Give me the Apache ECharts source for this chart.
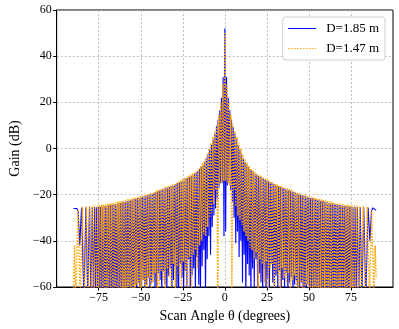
<!DOCTYPE html>
<html>
<head>
<meta charset="utf-8">
<script src="https://cdn.jsdelivr.net/npm/echarts@6/dist/echarts.min.js"></script>
<style>
  html, body { margin: 0; padding: 0; background: #fff; }
  #main { width: 399px; height: 329px; }
</style>
</head>
<body>
<div id="main"></div>
<script>
// scan angle (deg) and gain (dB), D=1.85 m
var blueAngle = [
  -90,-89,-88,-87.2,-86.3,-85.2,-83.8,-82.6,-81.5,-80.5,
  -79.6,-78.8,-78.1,-77.4,-76.8,-76.2,
  -75.5,-75,-74.5,-74,-73.5,-73,-72.5,-72,-71.5,-71,
  -70.5,-70,-69.5,-69,-68.5,-68,-67.5,-67,-66.5,-66,
  -65.5,-65,-64.5,-64,-63.5,-63,-62.5,-62,-61.5,-61,
  -60.5,-60,-59.5,-59,-58.5,-58,-57.5,-57,-56.5,-56,
  -55.5,-55,-54.5,-54,-53.5,-53,-52.5,-52,-51.5,-51,
  -50.5,-50,-49.5,-49,-48.5,-48,-47.5,-47,-46.5,-46,
  -45.5,-45,-44.5,-44,-43.5,-43,-42.5,-42,-41.5,-41,
  -40.5,-40,-39.5,-39,-38.5,-38,-37.5,-37,-36.5,-36,
  -35.5,-35,-34.5,-34,-33.5,-33,-32.5,-32,-31.5,-31,
  -30.5,-30,-29.5,-29,-28.5,-28,-27.5,-27,-26.5,-26,
  -25.5,-25,-24.5,-24,-23.5,-23,-22.5,-22,-21.5,-21,
  -20.5,-20,-19.5,-19,-18.5,-18,-17.5,-17,-16.5,-16,
  -15.5,-15,-14.5,-14,-13.5,-13,-12.5,-12,-11.5,-11,
  -10.5,-10,-9.5,-9,-8.5,-8,-7.5,-7,-6.5,-6,
  -5.5,-5,-4.5,-4,-3.5,-3,-2.5,-2,-1.5,-1,
  -0.5,0,
  0.5,1,1.5,2,2.5,3,3.5,4,4.5,5,
  5.5,6,6.5,7,7.5,8,8.5,9,9.5,10,
  10.5,11,11.5,12,12.5,13,13.5,14,14.5,15,
  15.5,16,16.5,17,17.5,18,18.5,19,19.5,20,
  20.5,21,21.5,22,22.5,23,23.5,24,24.5,25,
  25.5,26,26.5,27,27.5,28,28.5,29,29.5,30,
  30.5,31,31.5,32,32.5,33,33.5,34,34.5,35,
  35.5,36,36.5,37,37.5,38,38.5,39,39.5,40,
  40.5,41,41.5,42,42.5,43,43.5,44,44.5,45,
  45.5,46,46.5,47,47.5,48,48.5,49,49.5,50,
  50.5,51,51.5,52,52.5,53,53.5,54,54.5,55,
  55.5,56,56.5,57,57.5,58,58.5,59,59.5,60,
  60.5,61,61.5,62,62.5,63,63.5,64,64.5,65,
  65.5,66,66.5,67,67.5,68,68.5,69,69.5,70,
  70.5,71,71.5,72,72.5,73,73.5,74,74.5,75,
  75.5,
  76.2,76.8,77.4,78.1,78.8,79.6,80.5,81.5,82.6,83.8,
  85.2,86.3,87.2,88,89,90
];
var blueGain = [
  -26,-25.8,-26,-27.5,-42,-25.7,-65,-25.6,-65,-25.5,
  -65,-25.5,-65,-25.4,-62,-25.4,
  -65,-25.3,-65,-25.2,-63,-25.1,-65,-25,-65,-24.9,
  -65,-24.8,-62,-24.6,-65,-24.5,-65,-24.4,-65,-24.2,
  -63,-24.1,-65,-23.9,-65,-23.8,-61,-23.6,-65,-23.4,
  -65,-23.2,-64,-23,-65,-22.8,-60,-22.6,-65,-22.4,
  -62,-22.2,-65,-22,-59,-21.8,-65,-21.6,-58,-21.4,
  -65,-21.2,-60,-21,-57,-20.8,-65,-20.6,-59,-20.4,
  -56,-20.2,-65,-19.9,-58,-19.6,-55,-19.3,-62,-19,
  -65,-18.7,-54,-18.4,-57,-18.1,-65,-17.8,-53,-17.5,
  -59,-17.2,-65,-17,-55,-16.7,-52,-16.4,-65,-16.1,
  -57,-15.8,-51,-15.4,-62,-15.1,-65,-14.7,-50,-14.3,
  -56,-13.9,-65,-13.5,-53,-13.1,-60,-12.7,-48,-12.3,
  -65,-11.9,-55,-11.4,-52,-10.9,-65,-10.3,-47,-9.7,
  -59,-8.9,-65,-8,-51,-7,-44,-5.8,-65,-4.3,
  -48,-2.5,-38,-0.5,-46,1.5,-34,4,-29,6.5,
  -26,9.5,-22,12.5,-17,16.5,-15,22,-15,31,
  -38,52,
  -36,31,-16,22,-15,16.5,-18,12.5,-23,9.5,
  -30,6.5,-41,4,-36,1.5,-47,-0.5,-40,-2.5,
  -58,-4.3,-46,-5.8,-65,-7,-50,-8,-55,-8.9,
  -65,-9.7,-52,-10.3,-60,-10.9,-48,-11.4,-65,-11.9,
  -54,-12.3,-58,-12.7,-65,-13.1,-52,-13.5,-62,-13.9,
  -56,-14.3,-65,-14.7,-50,-15.1,-58,-15.4,-65,-15.8,
  -55,-16.1,-60,-16.4,-53,-16.7,-65,-17,-57,-17.2,
  -62,-17.5,-54,-17.8,-65,-18.1,-58,-18.4,-56,-18.7,
  -65,-19,-59,-19.3,-57,-19.6,-65,-19.9,-60,-20.2,
  -58,-20.4,-65,-20.6,-61,-20.8,-65,-21,-59,-21.2,
  -65,-21.4,-62,-21.6,-65,-21.8,-60,-22,-65,-22.2,
  -63,-22.4,-65,-22.6,-65,-22.8,-61,-23,-65,-23.2,
  -65,-23.4,-64,-23.6,-65,-23.8,-65,-23.9,-62,-24.1,
  -65,-24.2,-65,-24.4,-65,-24.5,-63,-24.6,-65,-24.8,
  -65,-24.9,-65,-25,-64,-25.1,-65,-25.2,-65,-25.3,
  -65,
  -25.4,-63,-25.4,-65,-25.5,-65,-25.5,-65,-25.6,-65,
  -25.6,-40,-27,-25.7,-25.6,-26.8
];

// D=1.47 m
var orangeAngle = [
  -90,-89.4,-88.6,-87.3,-86,-84.7,-83.5,-82.3,-81.2,-80.2,
  -79.3,-78.5,-77.7,-77,-76.2,
  -75.6,-75,-74.4,-73.8,-73.2,-72.6,-72,-71.4,-70.8,-70.2,
  -69.6,-69,-68.4,-67.8,-67.2,-66.6,-66,-65.4,-64.8,-64.2,
  -63.6,-63,-62.4,-61.8,-61.2,-60.6,-60,-59.4,-58.8,-58.2,
  -57.6,-57,-56.4,-55.8,-55.2,-54.6,-54,-53.4,-52.8,-52.2,
  -51.6,-51,-50.4,-49.8,-49.2,-48.6,-48,-47.4,-46.8,-46.2,
  -45.6,-45,-44.4,-43.8,-43.2,-42.6,-42,-41.4,-40.8,-40.2,
  -39.6,-39,-38.4,-37.8,-37.2,-36.6,-36,-35.4,-34.8,-34.2,
  -33.6,-33,-32.4,-31.8,-31.2,-30.6,-30,-29.4,-28.8,-28.2,
  -27.6,-27,-26.4,-25.8,-25.2,-24.6,-24,-23.4,-22.8,-22.2,
  -21.6,-21,-20.4,-19.8,-19.2,-18.6,-18,-17.4,-16.8,-16.2,
  -15.6,-15,-14.4,-13.8,-13.2,-12.6,-12,-11.4,-10.8,-10.2,
  -9.6,-9,-8.4,-7.8,-7.2,-6.6,-6,-5.4,-4.8,-4.2,
  -3.6,-3,-2.4,-1.8,-1.2,-0.6,
  0,
  0.6,1.2,1.8,2.4,3,3.6,
  4.2,4.8,5.4,6,6.6,7.2,7.8,8.4,9,9.6,
  10.2,10.8,11.4,12,12.6,13.2,13.8,14.4,15,15.6,
  16.2,16.8,17.4,18,18.6,19.2,19.8,20.4,21,21.6,
  22.2,22.8,23.4,24,24.6,25.2,25.8,26.4,27,27.6,
  28.2,28.8,29.4,30,30.6,31.2,31.8,32.4,33,33.6,
  34.2,34.8,35.4,36,36.6,37.2,37.8,38.4,39,39.6,
  40.2,40.8,41.4,42,42.6,43.2,43.8,44.4,45,45.6,
  46.2,46.8,47.4,48,48.6,49.2,49.8,50.4,51,51.6,
  52.2,52.8,53.4,54,54.6,55.2,55.8,56.4,57,57.6,
  58.2,58.8,59.4,60,60.6,61.2,61.8,62.4,63,63.6,
  64.2,64.8,65.4,66,66.6,67.2,67.8,68.4,69,69.6,
  70.2,70.8,71.4,72,72.6,73.2,73.8,74.4,75,75.6,
  76.2,77,77.7,78.5,79.3,80.2,81.2,82.3,83.5,84.7,
  86,87.3,88.6,89.4,90
];
var orangeGain = [
  -62,-42,-65,-26.5,-65,-25.2,-65,-25,-65,-24.9,
  -65,-24.8,-64,-24.7,-65,
  -24.6,-65,-24.5,-65,-24.4,-63,-24.3,-65,-24.2,-65,
  -24.1,-62,-23.9,-65,-23.7,-65,-23.5,-64,-23.3,-65,
  -23.1,-61,-22.9,-65,-22.7,-65,-22.5,-62,-22.2,-65,
  -22,-60,-21.8,-65,-21.6,-63,-21.3,-65,-21.1,-59,
  -20.9,-65,-20.6,-61,-20.4,-57,-20.2,-65,-20,-60,
  -19.7,-56,-19.4,-65,-19.1,-58,-18.7,-54,-18.3,-62,
  -17.9,-65,-17.5,-53,-17.2,-57,-16.9,-65,-16.6,-52,
  -16.3,-56,-16,-60,-15.6,-50,-15.2,-65,-14.7,-51,
  -14.3,-55,-13.8,-65,-13.3,-49,-12.8,-53,-12.3,-60,
  -11.8,-47,-11.3,-65,-10.8,-46,-10.2,-44,-9.5,-52,
  -8.6,-42,-7.6,-40,-6.2,-37,-4.5,-38,-2.5,-34,
  0,-30,2.5,-28,5,-24,7.5,-18,10.5,-65,
  14.5,-15,20,-15,28,-14,
  50,
  -14,28,-15,20,-16,14.5,
  -65,10.5,-18,7.5,-25,5,-29,2.5,-31,0,
  -33,-2.5,-36,-4.5,-38,-6.2,-40,-7.6,-43,-8.6,
  -44,-9.5,-48,-10.2,-45,-10.8,-65,-11.3,-48,-11.8,
  -50,-12.3,-58,-12.8,-49,-13.3,-65,-13.8,-52,-14.3,
  -50,-14.7,-60,-15.2,-53,-15.6,-55,-16,-65,-16.3,
  -52,-16.6,-56,-16.9,-58,-17.2,-54,-17.5,-65,-17.9,
  -57,-18.3,-55,-18.7,-60,-19.1,-65,-19.4,-58,-19.7,
  -62,-20,-65,-20.2,-59,-20.4,-65,-20.6,-61,-20.9,
  -65,-21.1,-62,-21.3,-65,-21.6,-63,-21.8,-65,-22,
  -65,-22.2,-61,-22.5,-65,-22.7,-65,-22.9,-64,-23.1,
  -65,-23.3,-65,-23.5,-62,-23.7,-65,-23.9,-65,-24.1,
  -65,-24.2,-63,-24.3,-65,-24.4,-65,-24.5,-65,-24.6,
  -65,-24.7,-65,-24.8,-63,-24.9,-65,-25,-65,-25.2,
  -65,-26.5,-65,-42,-56
];

var xTicks = [-75, -50, -25, 0, 25, 50, 75];
var seriesNames = ['D=1.85 m', 'D=1.47 m'];

if (blueAngle.length != blueGain.length || orangeAngle.length != orangeGain.length) {
    console.error('length mismatch', blueAngle.length, blueGain.length, orangeAngle.length, orangeGain.length);
}

function pairs(xs, ys) {
    return xs.map(function (x, i) { return [x, ys[i]]; });
}

function minusFmt(v) {
    return v < 0 ? '\u2212' + (-v) : String(v);
}

var font = 'Liberation Serif';

var myChart = echarts.init(document.getElementById('main'));
var option = {
    animation: false,
    backgroundColor: '#fff',
    textStyle: { fontFamily: font },
    grid: {
        left: 49, top: 10, width: 344, height: 277,
        show: true, borderColor: '#000', borderWidth: 1, backgroundColor: 'transparent'
    },
    legend: {
        right: 14, top: 17,
        orient: 'vertical',
        padding: [5, 6, 5, 5],
        itemGap: 7,
        itemWidth: 28, itemHeight: 12,
        backgroundColor: '#fff',
        borderColor: '#d0d0d0', borderWidth: 1, borderRadius: 3,
        itemStyle: { opacity: 0 },
        lineStyle: { width: 1 },
        textStyle: { fontFamily: font, fontSize: 13, color: '#000', padding: [0, 0, 0, 5] },
        data: seriesNames
    },
    xAxis: {
        type: 'value',
        min: -100, max: 100, interval: 25,
        name: 'Scan Angle \u03b8 (degrees)',
        nameLocation: 'middle', nameGap: 21,
        nameTextStyle: { fontFamily: font, fontSize: 14, color: '#000' },
        axisLine: { onZero: false, lineStyle: { color: '#000', width: 1 } },
        axisTick: { customValues: xTicks, length: 3.5, lineStyle: { color: '#000' } },
        axisLabel: { customValues: xTicks, formatter: minusFmt, fontFamily: font, fontSize: 12, color: '#000', margin: 5 },
        splitLine: { show: true, lineStyle: { color: '#b0b0b0', type: [2, 2], width: 0.8 } }
    },
    yAxis: {
        type: 'value',
        min: -60, max: 60, interval: 20,
        name: 'Gain (dB)',
        nameLocation: 'middle', nameGap: 33,
        nameTextStyle: { fontFamily: font, fontSize: 14, color: '#000' },
        axisLine: { show: true, onZero: false, lineStyle: { color: '#000', width: 1 } },
        axisTick: { show: true, length: 3.5, lineStyle: { color: '#000' } },
        axisLabel: { formatter: minusFmt, fontFamily: font, fontSize: 12, color: '#000', margin: 5 },
        splitLine: { show: true, lineStyle: { color: '#b0b0b0', type: [2, 2], width: 0.8 } }
    },
    series: [
        {
            name: seriesNames[0],
            type: 'line',
            data: pairs(blueAngle, blueGain),
            symbol: 'none',
            clip: true,
            lineStyle: { color: '#0000ff', width: 1.1 },
            itemStyle: { color: '#0000ff' }
        },
        {
            name: seriesNames[1],
            type: 'line',
            data: pairs(orangeAngle, orangeGain),
            symbol: 'none',
            clip: true,
            lineStyle: { color: '#ffa500', width: 1.5, type: [1.5, 1.5] },
            itemStyle: { color: '#ffa500' }
        }
    ]
};
myChart.setOption(option);
</script>
</body>
</html>
